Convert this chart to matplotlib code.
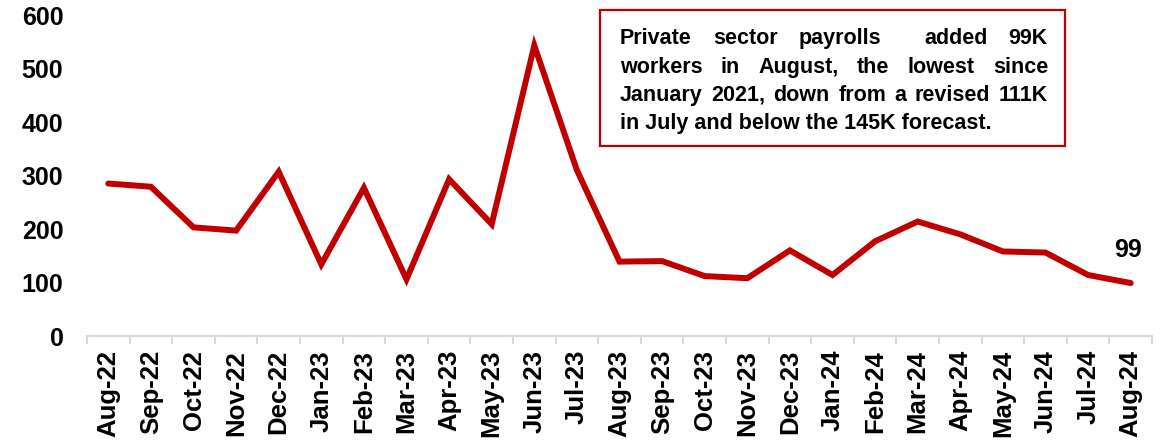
import matplotlib
matplotlib.use("Agg")
import matplotlib.pyplot as plt
from matplotlib.patches import Rectangle
from matplotlib.ticker import FixedLocator

plt.rcParams["font.family"] = ["Liberation Sans", "DejaVu Sans"]

MONTHS = [
    "Aug-22", "Sep-22", "Oct-22", "Nov-22", "Dec-22", "Jan-23", "Feb-23",
    "Mar-23", "Apr-23", "May-23", "Jun-23", "Jul-23", "Aug-23", "Sep-23",
    "Oct-23", "Nov-23", "Dec-23", "Jan-24", "Feb-24", "Mar-24", "Apr-24",
    "May-24", "Jun-24", "Jul-24", "Aug-24",
]
PAYROLLS = [
    285, 279, 203, 197, 307, 134, 277, 106, 293, 209, 543, 310, 139, 140,
    112, 108, 160, 114, 177, 214, 190, 158, 156, 114, 99,
]
Y_TICKS = [0, 100, 200, 300, 400, 500, 600]

NOTE_LINES = [
    ("Private sector payrolls  added 99K", True),
    ("workers in August, the lowest since", True),
    ("January 2021, down from a revised 111K", True),
    ("in July and below the 145K forecast.", False),
]

RED = "#C00000"
W, H = 1165, 445

fig = plt.figure(figsize=(W / 100, H / 100), dpi=100)
ax = fig.add_axes([87 / W, 1 - 336 / H, (1152 - 87) / W, (336 - 15) / H])

x = list(range(len(MONTHS)))
ax.plot(x, PAYROLLS, color=RED, lw=4.3, solid_joinstyle="miter", solid_capstyle="round")

ax.set_xlim(-0.5, len(MONTHS) - 0.5)
ax.set_ylim(0, 600)
ax.set_yticks(Y_TICKS)
ax.set_yticklabels([str(v) for v in Y_TICKS], fontsize=18, fontweight="bold")
ax.set_xticks(x)
ax.set_xticklabels(MONTHS, rotation=90, fontsize=18.5, fontweight="bold")
ax.xaxis.set_minor_locator(FixedLocator([i - 0.5 for i in range(len(MONTHS) + 1)]))
ax.tick_params(axis="x", which="major", length=0, pad=10)
ax.tick_params(axis="x", which="minor", length=6, width=1.5, color="#D9D9D9")
ax.tick_params(axis="y", length=0, pad=17)

for side in ["top", "right", "left"]:
    ax.spines[side].set_visible(False)
ax.spines["bottom"].set_color("#D9D9D9")
ax.spines["bottom"].set_linewidth(1.5)

ax.annotate(str(PAYROLLS[-1]), (x[-1], PAYROLLS[-1]), xytext=(-2, 15),
            textcoords="offset points", ha="center", va="bottom",
            fontsize=18, fontweight="bold")

# note box
fig.patches.append(Rectangle((600 / W, 1 - 146 / H), 465 / W, 136 / H,
                             transform=fig.transFigure, fill=False,
                             edgecolor=RED, lw=1.6))

renderer = fig.canvas.get_renderer()
left_px, right_px = 620, 1048
baselines = [44, 73, 101, 129]
for (line, justify), base in zip(NOTE_LINES, baselines):
    yf = 1 - base / H
    if not justify:
        fig.text(left_px / W, yf, line, fontsize=15.5, fontweight="bold",
                 va="baseline", ha="left")
        continue
    words = line.split(" ")
    arts = []
    widths = []
    for wd in words:
        t = fig.text(0, yf, wd, fontsize=15.5, fontweight="bold",
                     va="baseline", ha="left")
        arts.append(t)
        widths.append(t.get_window_extent(renderer).width if wd else 0)
    gap = (right_px - left_px - sum(widths)) / (len(words) - 1)
    pos = left_px
    for t, wdt in zip(arts, widths):
        t.set_x(pos / W)
        pos += wdt + gap

fig.savefig("out.png", dpi=100)
